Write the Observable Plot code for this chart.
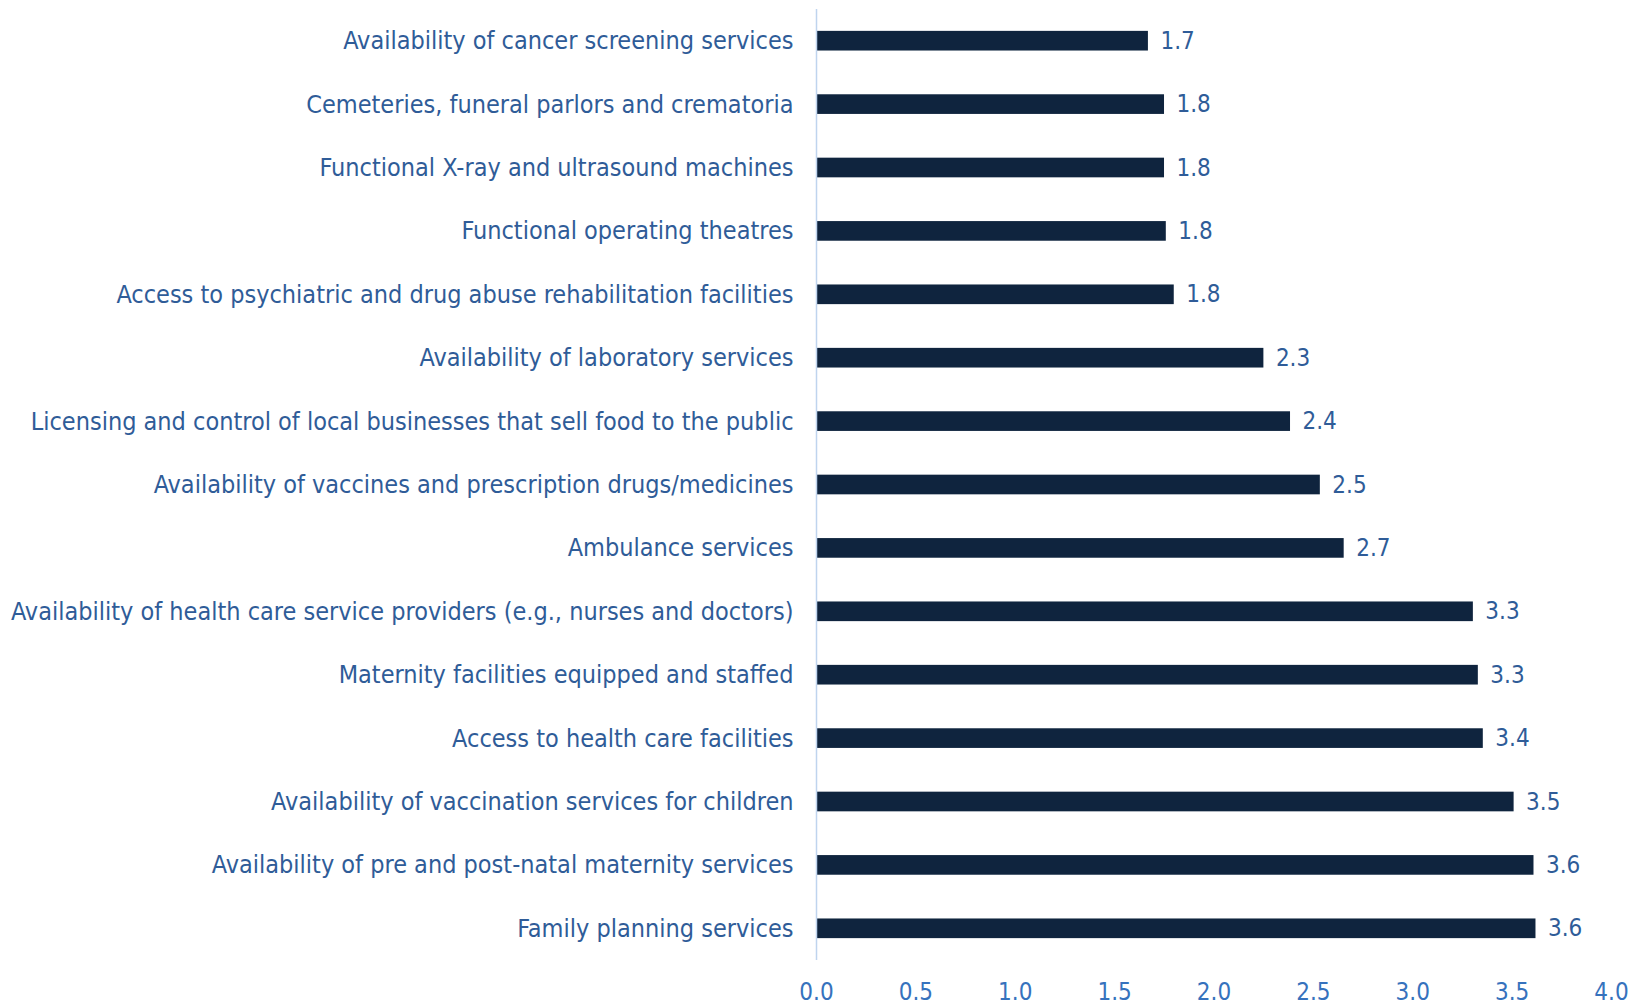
<!DOCTYPE html>
<html>
<head>
<meta charset="utf-8">
<script src="https://cdn.jsdelivr.net/npm/d3@7"></script>
<script src="https://cdn.jsdelivr.net/npm/@observablehq/plot@0.6"></script>
<style>
  html, body { margin: 0; padding: 0; background: #ffffff; }
  #chart svg { display: block; }
</style>
</head>
<body>
<div id="chart"></div>
<script>
const categories = [
  "Availability of cancer screening services",
  "Cemeteries, funeral parlors and crematoria",
  "Functional X-ray and ultrasound machines",
  "Functional operating theatres",
  "Access to psychiatric and drug abuse rehabilitation facilities",
  "Availability of laboratory services",
  "Licensing and control of local businesses that sell food to the public",
  "Availability of vaccines and prescription drugs/medicines",
  "Ambulance services",
  "Availability of health care service providers (e.g., nurses and doctors)",
  "Maternity facilities equipped and staffed",
  "Access to health care facilities",
  "Availability of vaccination services for children",
  "Availability of pre and post-natal maternity services",
  "Family planning services"
];
const scores = [1.67, 1.751, 1.751, 1.76, 1.80, 2.251, 2.385, 2.535, 2.655, 3.305, 3.33, 3.355, 3.51, 3.61, 3.62];
const xTicks = [0, 0.5, 1, 1.5, 2, 2.5, 3, 3.5, 4];

const data = categories.map((c, i) => ({category: c, score: scores[i]}));
const fmt = d3.format(".1f");
const FONT = "'DejaVu Sans Condensed', 'DejaVu Sans', sans-serif";

const chart = Plot.plot({
  width: 1630,
  height: 1006,
  marginTop: 9,
  marginBottom: 46,
  marginLeft: 816,
  marginRight: 19,
  style: {fontFamily: FONT, fontStretch: "condensed", background: "#ffffff"},
  x: {domain: [0, 4], ticks: xTicks, tickFormat: fmt},
  y: {domain: categories, paddingInner: 0.69, paddingOuter: 0.345, round: false},
  marks: [
    Plot.barX(data, {x: "score", y: "category", fill: "#0f243e"}),
    Plot.ruleX([0], {stroke: "#bfd4ee", strokeWidth: 1.5}),
    Plot.text(data, {
      x: "score", y: "category", text: d => fmt(d.score),
      textAnchor: "start", dx: 12, fontSize: 24, fill: "#2f5c98"
    }),
    Plot.axisY({tickSize: 0, tickPadding: 23, fontSize: 25, color: "#2f5c98", label: null}),
    Plot.axisX({ticks: xTicks, tickFormat: fmt, tickSize: 0, tickPadding: 22, fontSize: 24, color: "#3672bd", label: null})
  ]
});
document.getElementById("chart").appendChild(chart);
</script>
</body>
</html>
